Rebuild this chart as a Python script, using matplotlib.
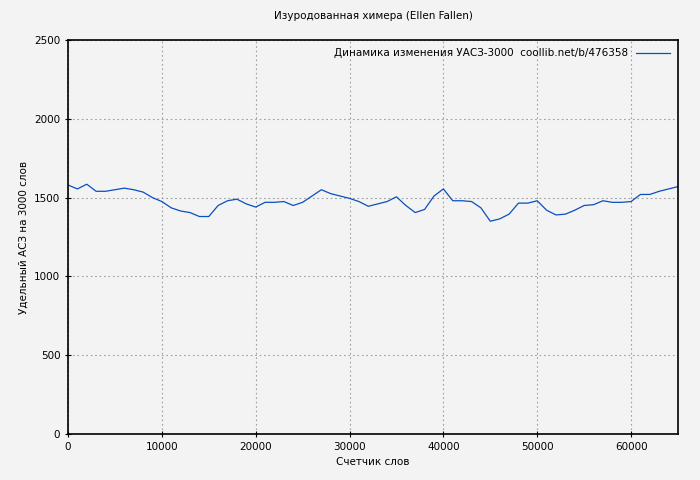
import matplotlib
matplotlib.use('Agg')
import matplotlib.pyplot as plt

# word counter and specific AC3 per 3000 words
words = list(range(0, 66000, 1000))
ac3 = [1580, 1555, 1585, 1540, 1540, 1550, 1560, 1550, 1535, 1500,
       1475, 1435, 1415, 1405, 1380, 1380, 1450, 1480, 1490, 1460,
       1440, 1470, 1470, 1475, 1450, 1470, 1510, 1550, 1525, 1510,
       1495, 1475, 1445, 1460, 1475, 1505, 1450, 1405, 1425, 1510,
       1555, 1480, 1480, 1475, 1435, 1350, 1365, 1395, 1465, 1465,
       1480, 1420, 1390, 1395, 1420, 1450, 1455, 1480, 1470, 1470,
       1475, 1520, 1520, 1540, 1555, 1570]

bg = '#f3f3f3'
fig = plt.figure(figsize=(7, 4.8), dpi=100, facecolor=bg)
ax = fig.add_axes([68/700, 1-434/480, 610/700, 394/480], facecolor=bg)
ax.plot(words, ac3, color='#0a4fbf', lw=0.9,
        label='Динамика изменения УАСЗ-3000  coollib.net/b/476358')
ax.set_xlim(0, 65000)
ax.set_ylim(0, 2500)
ax.set_xticks(range(0, 65000, 10000))
ax.set_yticks(range(0, 2501, 500))
ax.grid(True, color='#a0a0a0', ls=(0, (1.5, 2.5)), lw=0.8)
ax.tick_params(labelsize=7.5, length=4, direction='inout')
for s in ax.spines.values():
    s.set_linewidth(1.2)
ax.set_title('Изуродованная химера (Ellen Fallen)', fontsize=7.5, pad=15)
ax.set_xlabel('Счетчик слов', fontsize=7.5, labelpad=4)
ax.set_ylabel('Удельный АСЗ на 3000 слов', fontsize=7.5)
leg = ax.legend(loc='upper right', fontsize=7.5, frameon=False,
                markerfirst=False, handlelength=3.2, borderaxespad=0.4)
fig.savefig('out.png', dpi=100, facecolor=bg)
